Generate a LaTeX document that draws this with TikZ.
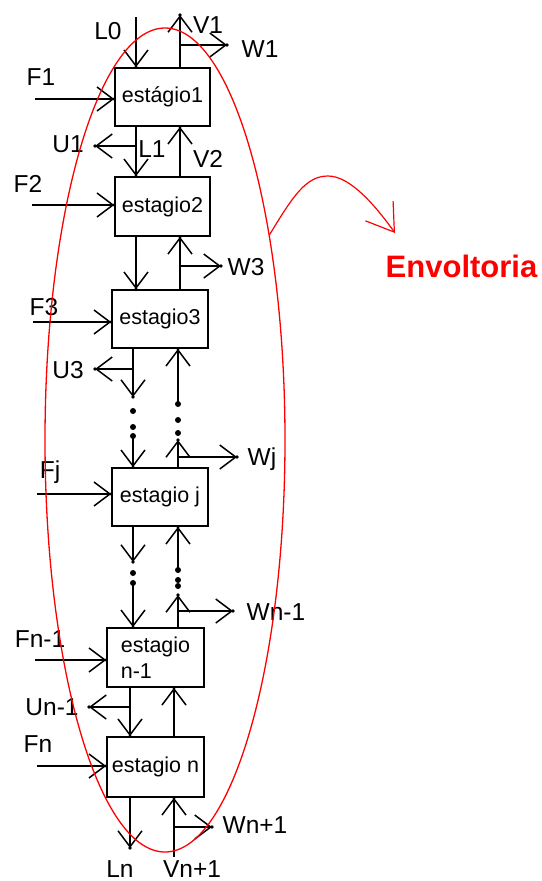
\documentclass[tikz,border=0pt]{standalone}
\usepackage{fontspec}
\setmainfont{Liberation Sans}
\usetikzlibrary{arrows.meta,shapes.geometric}
\newcommand\flowto[2]{\draw[flow] #1 -- #2; \fill #2 circle (1.8pt);}
\newcommand\bigdot[1]{\fill #1 circle (3pt);}
\begin{document}
\begin{tikzpicture}[x=1pt,y=-1pt,
  stage/.style={draw,line width=1.6pt,inner sep=0pt,font=\fontsize{21.5}{26}\selectfont},
  lbl/.style={anchor=base,inner sep=0pt,font=\fontsize{24.5}{29}\selectfont},
  flow/.style={line width=1.5pt,-{Straight Barb[length=16pt,width=24pt]}},
  envarrow/.style={red,line width=1.2pt,-{Straight Barb[length=26pt,width=34pt]}}]
\useasboundingbox (0,0) rectangle (541,881);

% stages
\node[stage,minimum width=95pt,minimum height=58pt] (s1) at (162.5,97) {estágio1};
\node[stage,minimum width=95pt,minimum height=59pt] (s2) at (162.5,206.5) {estagio2};
\node[stage,minimum width=96pt,minimum height=58pt] (s3) at (160,319) {estagio3};
\node[stage,minimum width=96pt,minimum height=58pt] (sj) at (160,497) {estagio j};
\node[stage,minimum width=97pt,minimum height=59pt,align=left] (sn1) at (155.5,657.5) {estagio\\n-1};
\node[stage,minimum width=97pt,minimum height=60pt] (sn) at (155.5,767) {estagio n};

% free ends
\coordinate (cL1) at (136,17);
\coordinate (cV1) at (180,15);
\coordinate (cW1) at (227,45);
\coordinate (cF1) at (35,99);
\coordinate (cU1) at (95,146);
\coordinate (cF2) at (32,205);
\coordinate (cW3) at (221,266);
\coordinate (cF3) at (33,322);
\coordinate (cU3) at (95,369);
\coordinate (cLa) at (133,397);
\coordinate (cLb) at (133,436);
\coordinate (cVa) at (178,402);
\coordinate (cVb) at (178,440);
\coordinate (cWj) at (237,457);
\coordinate (cFj) at (37,494);
\coordinate (cLc) at (133,562);
\coordinate (cLd) at (133,583);
\coordinate (cVc) at (178,570);
\coordinate (cVd) at (178,595);
\coordinate (cWn1) at (233,611);
\coordinate (cFn1) at (35,660);
\coordinate (cUn1) at (89,707);
\coordinate (cFn) at (37,766);
\coordinate (cLn) at (130,848);
\coordinate (cVn) at (174,857);
\coordinate (cWn) at (212,827);

% stage 1
\flowto{(cL1)}{(cL1 |- s1.north)}
\flowto{(cV1 |- s1.north)}{(cV1)}
\flowto{(cW1 -| cV1)}{(cW1)}
\flowto{(cF1)}{(cF1 -| s1.west)}
\flowto{(cU1 -| cL1)}{(cU1)}
\flowto{(s1.south -| cL1)}{(s2.north -| cL1)}
\flowto{(s2.north -| cV1)}{(s1.south -| cV1)}
% stage 2
\flowto{(cF2)}{(cF2 -| s2.west)}
\flowto{(s2.south -| cL1)}{(s3.north -| cL1)}
\flowto{(s3.north -| cV1)}{(s2.south -| cV1)}
\flowto{(cW3 -| cV1)}{(cW3)}
% stage 3
\flowto{(cF3)}{(cF3 -| s3.west)}
\flowto{(cU3 -| cLa)}{(cU3)}
\flowto{(s3.south -| cLa)}{(cLa)}
\flowto{(cLb)}{(sj.north -| cLb)}
\flowto{(cVa)}{(s3.south -| cVa)}
\flowto{(sj.north -| cVb)}{(cVb)}
\flowto{(cWj -| cVb)}{(cWj)}
\bigdot{(133,411)}\bigdot{(133,427)}\bigdot{(133,436)}
\bigdot{(178,404)}\bigdot{(178,420)}\bigdot{(178,433)}
% stage j
\flowto{(cFj)}{(cFj -| sj.west)}
\flowto{(sj.south -| cLc)}{(cLc)}
\flowto{(cLd)}{(sn1.north -| cLd)}
\flowto{(cVc)}{(sj.south -| cVc)}
\flowto{(sn1.north -| cVd)}{(cVd)}
\flowto{(cWn1 -| cVd)}{(cWn1)}
\bigdot{(133,573)}\bigdot{(133,583)}
\bigdot{(178,570)}\bigdot{(178,580)}\bigdot{(178,586)}
% stage n-1
\flowto{(cFn1)}{(cFn1 -| sn1.west)}
\flowto{(cUn1 -| cLn)}{(cUn1)}
\flowto{(sn1.south -| cLn)}{(sn.north -| cLn)}
\flowto{(sn.north -| cVn)}{(sn1.south -| cVn)}
% stage n
\flowto{(cFn)}{(cFn -| sn.west)}
\flowto{(sn.south -| cLn)}{(cLn)}
\flowto{(cVn)}{(sn.south -| cVn)}
\flowto{(cWn -| cVn)}{(cWn)}

% labels
\node[lbl] (tL0) at (108,39) {L0};
\node[lbl] (tV1) at (208,33) {V1};
\node[lbl] (tW1) at (260,57) {W1};
\node[lbl] (tF1) at (41,85) {F1};
\node[lbl] (tU1) at (68,152) {U1};
\node[lbl] (tL1) at (152,157) {L1};
\node[lbl] (tV2) at (208,167) {V2};
\node[lbl] (tF2) at (28,192) {F2};
\node[lbl] (tW3) at (246,275) {W3};
\node[lbl] (tF3) at (44,315) {F3};
\node[lbl] (tU3) at (68,378) {U3};
\node[lbl] (tWj) at (262,465) {Wj};
\node[lbl] (tFj) at (50,478) {Fj};
\node[lbl] (tWn1) at (276,620) {Wn-1};
\node[lbl] (tFn1) at (40,647) {Fn-1};
\node[lbl] (tUn1) at (52,715) {Un-1};
\node[lbl] (tFn) at (38,752) {Fn};
\node[lbl] (tWn) at (255,833) {Wn+1};
\node[lbl] (tLn) at (120,877) {Ln};
\node[lbl] (tVn) at (192,877) {Vn+1};

% envelope
\node[draw=red,line width=1.3pt,ellipse,inner sep=0pt,minimum width=240pt,minimum height=824pt] (env) at (165,440) {};
\coordinate (e1) at (328,176);
\coordinate (e2) at (395,233);
\draw[envarrow] (env.63) .. controls (293,196) and (306,176) .. (e1) .. controls (350,176) and (375,205) .. (e2);
\node[anchor=base,inner sep=0pt,text=red,font=\bfseries\fontsize{31}{37}\selectfont] (tEnv) at (461.5,277) {Envoltoria};
\end{tikzpicture}
\end{document}
